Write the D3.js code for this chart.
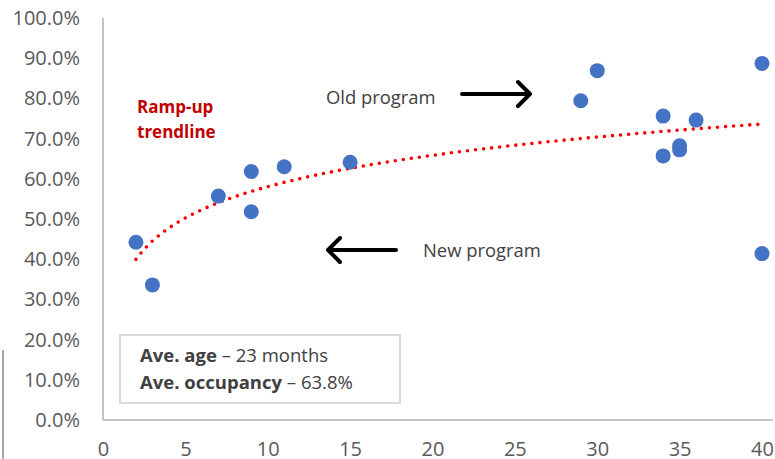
<!DOCTYPE html>
<html>
<head>
<meta charset="utf-8">
<script src="https://cdn.jsdelivr.net/npm/d3@7/dist/d3.min.js"></script>
<style>
  html, body { margin: 0; padding: 0; background: #fff; }
  svg { display: block; font-family: "Open Sans", "Noto Sans", sans-serif; }
</style>
</head>
<body>
<svg id="chart" width="775" height="459"></svg>
<script>
// Months since opening for each site, and its occupancy rate
const ageMonths = [2, 3, 7, 9, 9, 11, 15, 29, 30, 34, 34, 35, 35, 36, 40, 40];
const occupancy = [0.442, 0.336, 0.557, 0.618, 0.518, 0.630, 0.641, 0.794, 0.869,
                   0.756, 0.657, 0.682, 0.672, 0.746, 0.887, 0.414];
const xTicks = [0, 5, 10, 15, 20, 25, 30, 35, 40];
const yTicks = [0, 0.1, 0.2, 0.3, 0.4, 0.5, 0.6, 0.7, 0.8, 0.9, 1.0];
const summaryLines = [
  { bold: "Ave. age", rest: " \u2013 23 months" },
  { bold: "Ave. occupancy", rest: " \u2013 63.8%" }
];

const svg = d3.select("#chart");
const plotLeft = 103, plotRight = 762, plotTop = 18, plotBottom = 420;

const x = d3.scaleLinear().domain([0, 40]).range([plotLeft, plotRight]);
const y = d3.scaleLinear().domain([0, 1]).range([plotBottom, plotTop]);

const axisColor = "#c4c4c4";
const labelColor = "#595959";

// stray frame edge at far left
svg.append("line")
  .attr("x1", 3).attr("x2", 3).attr("y1", 350).attr("y2", 459)
  .attr("stroke", "#a6a6a6").attr("stroke-width", 2);

// Y axis
const yAxis = svg.append("g")
  .attr("transform", `translate(${plotLeft},0)`)
  .call(d3.axisLeft(y).tickValues(yTicks).tickFormat(d3.format(".1%"))
    .tickSize(0).tickPadding(23));
yAxis.select(".domain").remove();
yAxis.selectAll("text")
  .attr("fill", labelColor).style("font-size", "20px")
  .style("font-family", "'Open Sans', sans-serif");

// X axis
const xAxis = svg.append("g")
  .attr("transform", `translate(0,${plotBottom})`)
  .call(d3.axisBottom(x).tickValues(xTicks).tickFormat(d3.format("d"))
    .tickSize(0).tickPadding(22));
xAxis.select(".domain").remove();
xAxis.selectAll("text")
  .attr("fill", labelColor).style("font-size", "20px")
  .style("font-family", "'Open Sans', sans-serif");

// axis lines
svg.append("line")
  .attr("x1", plotLeft).attr("x2", plotLeft).attr("y1", y(1)).attr("y2", y(0))
  .attr("stroke", axisColor).attr("stroke-width", 2);
svg.append("line")
  .attr("x1", plotLeft).attr("x2", plotRight + 11).attr("y1", y(0)).attr("y2", y(0))
  .attr("stroke", axisColor).attr("stroke-width", 2);

// Logarithmic trendline fitted to the points: occupancy = a + b * ln(age)
const lx = ageMonths.map(Math.log);
const mx = d3.mean(lx), my = d3.mean(occupancy);
const sxy = d3.sum(lx, (v, i) => (v - mx) * (occupancy[i] - my));
const sxx = d3.sum(lx, v => (v - mx) * (v - mx));
const b = sxy / sxx, a = my - b * mx;
const [xMin, xMax] = d3.extent(ageMonths);
const trend = d3.range(xMin, xMax + 0.001, 0.25).map(t => [t, a + b * Math.log(t)]);

svg.append("path")
  .datum(trend)
  .attr("d", d3.line().x(d => x(d[0])).y(d => y(d[1])))
  .attr("fill", "none")
  .attr("stroke", "#ff0000")
  .attr("stroke-width", 3.6)
  .attr("stroke-linecap", "round")
  .attr("stroke-dasharray", "0 8.1");

// points
svg.append("g")
  .selectAll("circle")
  .data(ageMonths.map((m, i) => ({ m, o: occupancy[i] })))
  .join("circle")
  .attr("cx", d => x(d.m))
  .attr("cy", d => y(d.o))
  .attr("r", 7.5)
  .attr("fill", "#4472c4");

// Trendline label
const ramp = svg.append("text")
  .attr("x", 137).attr("y", 113)
  .attr("fill", "#c00000")
  .style("font-size", "17px").style("font-weight", "bold");
ramp.append("tspan").attr("x", 137).text("Ramp-up");
ramp.append("tspan").attr("x", 137).attr("dy", 25).text("trendline");

// Program annotations with arrows
svg.append("text").attr("x", 326).attr("y", 104)
  .attr("fill", "#404040").style("font-size", "18.4px").text("Old program");
svg.append("text").attr("x", 423).attr("y", 257)
  .attr("fill", "#404040").style("font-size", "18.4px").text("New program");

const arrowStyle = sel => sel.attr("fill", "none").attr("stroke", "#000")
  .attr("stroke-width", 4).attr("stroke-linecap", "round").attr("stroke-linejoin", "round");

svg.append("path")
  .attr("d", "M462,94 L530,94 M518,82 L530,94 L518,106")
  .call(arrowStyle);
svg.append("path")
  .attr("d", "M396,250 L328,250 M340,238 L328,250 L340,262")
  .call(arrowStyle);

// Summary box
svg.append("rect")
  .attr("x", 120).attr("y", 335).attr("width", 280).attr("height", 68)
  .attr("fill", "#fff").attr("stroke", "#d9d9d9").attr("stroke-width", 2);

summaryLines.forEach((s, i) => {
  const t = svg.append("text")
    .attr("x", 140).attr("y", 361.5 + i * 27)
    .attr("fill", "#404040").style("font-size", "18.5px");
  t.append("tspan").style("font-weight", "bold").text(s.bold);
  t.append("tspan").text(s.rest);
});
</script>
</body>
</html>
